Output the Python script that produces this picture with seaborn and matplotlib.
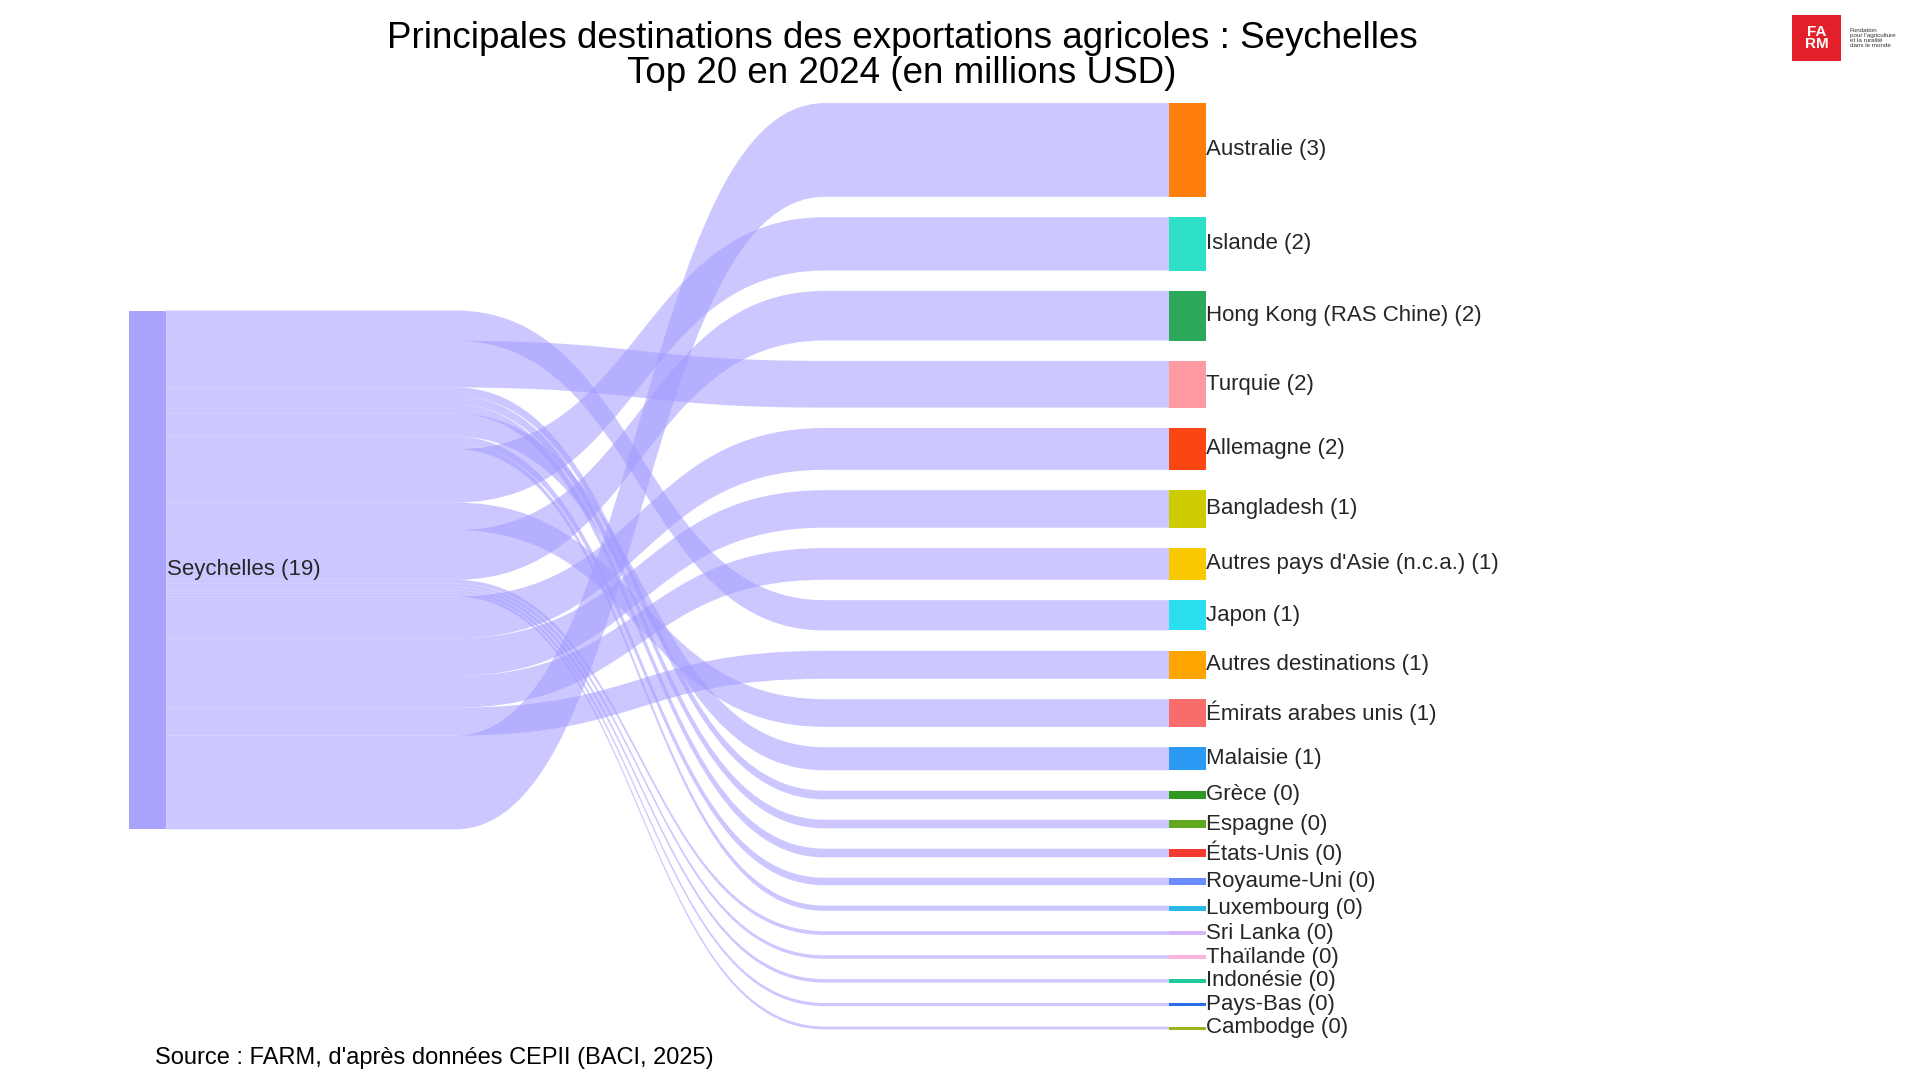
import numpy as np
import matplotlib.pyplot as plt
from matplotlib.path import Path
from matplotlib.patches import PathPatch, Rectangle
import seaborn as sns

sns.set_style("white")
plt.rcParams['font.family'] = ['Liberation Sans', 'DejaVu Sans']

# data (millions USD, read from node heights)
source = "Seychelles"
source_total_label = 19
countries = ["Australie", "Islande", "Hong Kong (RAS Chine)", "Turquie", "Allemagne",
             "Bangladesh", "Autres pays d'Asie (n.c.a.)", "Japon", "Autres destinations",
             "Émirats arabes unis", "Malaisie", "Grèce", "Espagne", "États-Unis",
             "Royaume-Uni", "Luxembourg", "Sri Lanka", "Thaïlande", "Indonésie",
             "Pays-Bas", "Cambodge"]
values = [3.25, 1.85, 1.72, 1.62, 1.45, 1.3, 1.1, 1.05, 0.97, 0.96, 0.8,
          0.3, 0.3, 0.3, 0.26, 0.18, 0.13, 0.12, 0.12, 0.11, 0.1]
labels_round = [3, 2, 2, 2, 2, 1, 1, 1, 1, 1, 1, 0, 0, 0, 0, 0, 0, 0, 0, 0, 0]
colors = ["#ff7f0e", "#2ee0c8", "#2ca85a", "#ff9aa2", "#fa4613", "#cccc00", "#f8c800",
          "#2ae0f0", "#ffa500", "#f86c6c", "#2a9af5", "#2e9a22", "#62a81e", "#f43a2e",
          "#6a8cff", "#2ab8e8", "#d8b4f8", "#fcb4dc", "#22c89a", "#2a6ee8", "#9ab422"]
# order of outgoing links on the source node (top to bottom)
source_order = ["Japon", "Turquie", "Grèce", "Espagne", "États-Unis", "Malaisie",
                "Royaume-Uni", "Luxembourg", "Islande", "Émirats arabes unis",
                "Hong Kong (RAS Chine)", "Sri Lanka", "Thaïlande", "Indonésie",
                "Pays-Bas", "Cambodge", "Allemagne", "Bangladesh",
                "Autres pays d'Asie (n.c.a.)", "Autres destinations", "Australie"]

W, H = 1560, 880
fig = plt.figure(figsize=(19.2, 10.8), dpi=100)
ax = fig.add_axes([0, 0, 1, 1])
ax.set_xlim(0, W)
ax.set_ylim(H, 0)
ax.axis("off")

scale = 23.5
gap = 16.6
x_src0, x_src1 = 105, 135
x_tgt0, x_tgt1 = 950, 980
xa, xb = 370, 670  # where the link curves start / end
link_col = (0.64, 0.61, 1.0, 0.55)

# target layout
tgt_y = {}
y = 84
for c, v in zip(countries, values):
    tgt_y[c] = (y, y + v * scale)
    y += v * scale + gap

total = sum(values)
src_top = 253
src_bot = src_top + total * scale
vals = dict(zip(countries, values))

# links
ys = src_top
xm = (xa + xb) / 2
for c in source_order:
    h = vals[c] * scale
    s0, s1 = ys, ys + h
    t0, t1 = tgt_y[c]
    verts = [(x_src1, s0), (xa, s0), (xm, s0), (xm, t0), (xb, t0), (x_tgt0, t0),
             (x_tgt0, t1), (xb, t1), (xm, t1), (xm, s1), (xa, s1), (x_src1, s1),
             (x_src1, s0)]
    codes = [Path.MOVETO, Path.LINETO, Path.CURVE4, Path.CURVE4, Path.CURVE4, Path.LINETO,
             Path.LINETO, Path.LINETO, Path.CURVE4, Path.CURVE4, Path.CURVE4, Path.LINETO,
             Path.CLOSEPOLY]
    ax.add_patch(PathPatch(Path(verts, codes), fc=link_col, ec="none"))
    ys = s1

# nodes
ax.add_patch(Rectangle((x_src0, src_top), x_src1 - x_src0, src_bot - src_top,
                       fc="#a9a3fc", ec="none"))
ax.text(x_src1 + 1, (src_top + src_bot) / 2, f"{source} ({source_total_label})",
        va="center", ha="left", fontsize=16)
for c, col, lr in zip(countries, colors, labels_round):
    t0, t1 = tgt_y[c]
    ax.add_patch(Rectangle((x_tgt0, t0), x_tgt1 - x_tgt0, max(t1 - t0, 2.5),
                           fc=col, ec="none"))
    ax.text(x_tgt1, (t0 + t1) / 2, f"{c} ({lr})", va="center", ha="left", fontsize=16)

ax.text(733, 46, "Principales destinations des exportations agricoles : Seychelles\n"
        "Top 20 en 2024 (en millions USD)", ha="center", va="center",
        fontsize=26.5, linespacing=1.0, color="black")
ax.text(126, 862, "Source : FARM, d'après données CEPII (BACI, 2025)",
        ha="left", va="center", fontsize=17, color="black")

# logo
ax.add_patch(Rectangle((1456, 12), 40, 38, fc="#e3202a", ec="none"))
ax.text(1476, 31, "FA\nRM", color="white", ha="center", va="center",
        fontsize=11, fontweight="bold", linespacing=0.9)
ax.text(1503, 31, "Fondation\npour l'agriculture\net la ruralité\ndans le monde",
        ha="left", va="center", fontsize=4.5, color="#333333", linespacing=1.0)

fig.savefig("out.png", dpi=100)
